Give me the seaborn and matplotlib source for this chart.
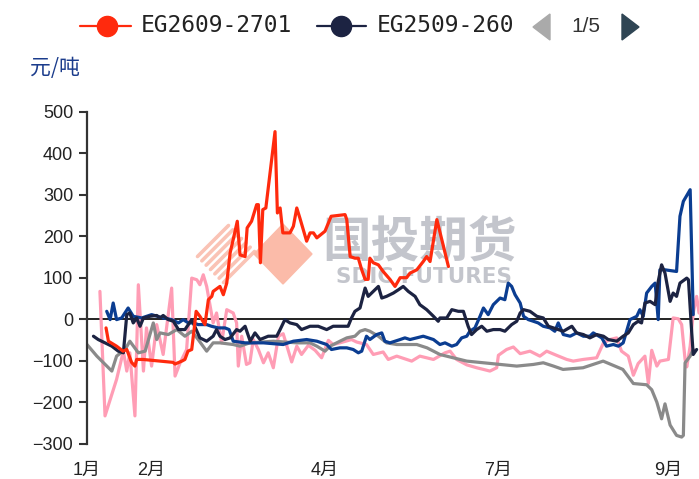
import numpy as np
import pandas as pd
import seaborn as sns
import matplotlib.pyplot as plt
from matplotlib.lines import Line2D
from matplotlib.patches import Polygon

W, H = 699, 479

# x: trading-day position since 1 Jan, y: spread (元/吨)
eg2609_x = [5.6, 6.3, 8.7, 10.6, 11.7, 13.1, 14.1, 14.6, 16.5, 25.3, 25.9, 27.9, 28.8, 29.7, 30.8,
            31.5, 32.1, 33.2, 34.7, 35.7, 36.7, 37.1, 39.1, 40.1, 41.1, 42.1, 43.0, 44.2, 45.0, 46.5,
            47.1, 48.4, 49.9, 50.4, 51.0, 51.7, 52.6, 55.3, 56.0, 56.8, 57.6, 59.7, 60.7, 61.7, 62.6,
            64.6, 65.6, 66.6, 67.6, 70.0, 71.8, 75.9, 76.4, 77.4, 78.8, 79.8, 80.8, 81.8, 82.7, 83.2,
            84.2, 85.7, 87.1, 89.1, 90.6, 92.1, 94.0, 95.0, 97.0, 98.9, 99.9, 100.9, 102.9, 106.3]
eg2609_y = [-21, -53, -65, -77, -73, -104, -113, -97, -97, -104, -108, -101, -97, -77, -73,
            -25, 19, 7, -13, 47, 55, 67, 79, 59, 87, 160, 192, 236, 155, 151,
            220, 236, 276, 276, 136, 264, 268, 452, 256, 268, 208, 208, 224, 268, 244,
            188, 208, 208, 196, 212, 248, 252, 240, 151, 147, 147, 119, 96, 96, 147,
            136, 131, 115, 96, 79, 100, 100, 111, 119, 139, 151, 139, 240, 127]

eg2509_x = [1.9, 3.3, 5.3, 7.3, 9.2, 10.7, 11.7, 12.6, 13.6, 14.6, 15.6, 16.6, 18.5, 20.5, 21.5,
            22.4, 23.9, 25.4, 26.9, 28.8, 30.8, 33.2, 35.2, 37.1, 38.1, 39.1, 40.6, 42.1, 44.0, 45.0,
            46.5, 48.0, 49.4, 50.9, 53.3, 55.8, 56.8, 58.2, 59.7, 61.7, 63.1, 65.6, 68.0, 70.5, 72.4,
            76.8, 77.8, 78.8, 80.3, 81.8, 82.7, 84.2, 85.7, 86.7, 88.1, 90.1, 91.6, 93.0, 94.5, 96.5,
            97.9, 99.9, 101.9, 103.3, 103.8, 105.8, 107.3, 109.2, 110.7, 112.1, 113.1, 114.6, 116.1,
            117.6, 119.5, 121.5, 122.9, 124.9, 126.4, 127.4, 128.4, 130.3, 132.3, 134.2, 135.7, 137.2,
            138.6, 140.1, 142.6, 144.0, 146.0, 147.9, 149.9, 151.9, 153.3, 155.8, 157.7, 159.2, 160.7,
            162.1, 163.1, 164.1, 165.6, 167.1, 168.0, 169.0, 170.0, 171.5, 172.4, 173.4, 174.4, 176.4,
            176.9, 177.8, 178.3, 179.3]
eg2509_y = [-41, -49, -57, -65, -77, -81, 11, 15, -9, 3, -17, 3, 7, 9, 3,
            9, -1, -5, -25, -25, -1, -45, -53, -41, -25, -41, -49, -45, -25, -29,
            -17, -53, -33, -49, -41, -41, -25, -1, -9, -13, -25, -17, -17, -25, -17,
            -17, 3, 19, 27, 75, 55, 67, 79, 51, 55, 63, 71, 79, 67, 55,
            35, 23, 7, -5, 3, 3, 23, 19, 19, -17, -37, -25, -17,
            -29, -25, -25, -29, -13, -5, 15, 23, 19, 7, 3, -17, -21,
            -25, -29, -17, -33, -37, -45, -37, -41, -49, -53, -41, -33, -13,
            -5, -9, 39, 43, 35, 91, 131, 111, 43, 63, 55, 87, 99,
            95, -25, -85, -73]

eg2409_x = [5.8, 6.8, 7.7, 8.7, 10.2, 12.1, 13.6, 16.1, 19.0, 22.4, 24.9, 26.9, 28.3, 29.8, 31.3,
            32.7, 35.2, 36.6, 38.6, 40.6, 41.8, 43.0, 46.5, 51.9, 57.7, 60.7, 64.6, 67.6, 70.5, 71.9,
            74.4, 76.4, 78.3, 79.8, 80.8, 82.2, 83.2, 85.2, 86.7, 87.6, 89.1, 92.1, 93.5, 95.0, 98.9,
            101.9, 103.8, 105.3, 107.3, 108.7, 110.2, 111.7, 112.6, 114.1, 115.6, 116.6, 118.0, 119.5,
            121.5, 122.9, 123.9, 124.9, 125.9, 127.4, 128.4, 129.8, 131.3, 132.7, 134.2, 136.2, 137.6,
            138.6, 140.1, 142.1, 144.0, 146.0, 147.9, 148.9, 151.4, 152.8, 154.8, 156.3, 157.7, 159.7,
            161.7, 162.6, 163.6, 164.6, 166.1, 167.1, 168.0, 168.5, 170.0, 173.4, 174.4, 175.4, 177.4,
            178.3]
eg2409_y = [19, -1, 39, -1, 3, 27, 7, 3, 11, 3, -1, -9, -1, -9, -9,
            -13, -13, -17, -21, -21, -25, -53, -57, -57, -61, -53, -49, -53, -61, -73,
            -69, -69, -73, -81, -77, -41, -49, -37, -33, -53, -57, -49, -45, -49, -41,
            -49, -61, -57, -65, -61, -45, -41, -29, -21, 7, 27, 11, 35,
            51, 47, 87, 79, 59, 39, 7, -1, -5, -9, -17, -21, -29,
            -9, -37, -41, -33, -41, -41, -33, -45, -65, -61, -65, -57, -1,
            7, 23, 7, 63, 79, 87, -1, 119, 119, 115, 248, 284, 312,
            11]

eg2309_x = [0.0, 2.9, 7.3, 8.7, 11.2, 12.6, 15.1, 17.1, 19.5, 20.5, 21.5, 23.9, 26.4, 28.8, 30.8,
            32.7, 35.2, 37.1, 39.1, 43.0, 45.0, 47.9, 54.8, 61.7, 65.6, 67.6, 70.0, 71.5, 74.4, 76.4,
            78.8, 80.3, 81.8, 83.2, 85.7, 88.1, 91.1, 94.5, 97.0, 100.0, 103.8, 107.7, 111.7, 116.6,
            121.5, 126.4, 131.3, 134.2, 137.2, 140.0, 145.9, 151.8, 157.6, 160.7, 164.6, 166.1, 167.6,
            169.0, 170.0, 171.5, 173.4, 174.9, 175.4, 175.9, 177.4, 178.3]
eg2309_y = [-61, -89, -125, -89, -73, -53, -81, -77, -9, -49, -33, -37, -25, -41, -29,
            -49, -77, -57, -57, -61, -65, -57, -53, -57, -57, -65, -77, -65, -53, -45,
            -41, -29, -25, -29, -41, -57, -61, -61, -61, -69, -85, -93, -101, -105,
            -109, -113, -109, -105, -113, -121, -117, -101, -121, -155, -158, -170, -200,
            -240, -204, -255, -280, -284, -280, -105, -89, -73]

eg2209_x = [3.8, 5.3, 8.7, 10.7, 11.7, 12.6, 14.1, 15.1, 16.6, 17.5, 19.0, 20.5, 22.4, 24.9, 25.9,
            27.4, 29.3, 30.8, 32.3, 33.2, 34.2, 35.2, 37.1, 38.1, 39.6, 41.1, 43.0, 44.0, 44.5, 45.5,
            46.9, 47.9, 48.9, 50.4, 51.9, 53.3, 54.8, 56.3, 57.7, 60.2, 61.7, 63.1, 65.1, 67.1, 69.0,
            71.0, 72.4, 74.4, 77.8, 79.3, 82.2, 84.2, 87.1, 88.6, 91.1, 95.5, 97.9, 101.9, 105.3, 106.8,
            108.7, 111.7, 114.6, 116.6, 118.5, 120.5, 121.0, 123.4, 125.4, 127.4, 130.3, 133.2, 135.2,
            138.1, 141.1, 143.0, 145.9, 149.9, 151.9, 153.8, 155.8, 157.2, 159.2, 160.7, 162.1, 164.1,
            165.1, 166.1, 167.6, 168.5, 171.0, 172.4, 173.9, 174.9, 175.9, 176.4, 177.4, 178.3, 179.3,
            180.0]
eg2209_y = [67, -233, -145, -77, -125, -81, -233, 83, -125, -21, -113, -13, -85, 75, -137,
            -105, -73, 99, 95, 83, 107, 79, -9, 15, -57, 23, 15, -9, -113, -41,
            -109, -105, -49, -73, -105, -81, -117, -41, -35, -103, -65, -85, -63, -75, -93,
            -51, -61, -57, -49, -55, -61, -85, -79, -97, -89, -101, -89, -97, -81, -77,
            -97, -110, -117, -121, -125, -117, -87, -73, -67, -83, -77, -89, -77,
            -87, -97, -101, -97, -93, -57, -49, -45, -77, -89, -135, -107, -89,
            -155, -75, -113, -101, -97, 3, 1, -13, -97, -115, -65, 15, 55,
            15]

contracts = ["EG2209-2301", "EG2309-2401", "EG2409-2501", "EG2509-2601", "EG2609-2701"]
xs_all = [eg2209_x, eg2309_x, eg2409_x, eg2509_x, eg2609_x]
ys_all = [eg2209_y, eg2309_y, eg2409_y, eg2509_y, eg2609_y]
colors = ["#FF9DB5", "#8A8A8A", "#0B3D91", "#1C2342", "#FF2A0D"]

tick_pos = [0, 19, 70, 121, 171]
tick_lab = ["1月", "2月", "4月", "7月", "9月"]

frames = []
for name, xs, ys in zip(contracts, xs_all, ys_all):
    frames.append(pd.DataFrame({"day": xs, "spread": ys, "contract": name}))
df = pd.concat(frames, ignore_index=True)

sns.set_theme(style="white")
plt.rcParams["font.family"] = ["Liberation Sans", "Noto Sans CJK SC", "DejaVu Sans"]

fig = plt.figure(figsize=(W / 100, H / 100), dpi=100)
ax = fig.add_axes([87 / W, 1 - 443.7 / H, 612 / W, 332 / H])
ax.set_facecolor("none")


def fp(px, py):
    return px / W, 1 - py / H


# watermark logo + text
r = 31
cx, cy = 226, 254
for c in np.linspace(-r + 5, r - 5, 7):
    x0, y0 = cx + (c - r) / 2, cy + (c + r) / 2
    x1, y1 = cx + (c + r) / 2, cy + (c - r) / 2
    ax.add_line(Line2D([fp(x0, y0)[0], fp(x1, y1)[0]], [fp(x0, y0)[1], fp(x1, y1)[1]],
                       transform=fig.transFigure, color="#FAC3B5", lw=2.6, zorder=0.4,
                       clip_on=False))
dx, dy = 283, 254
ax.add_patch(Polygon([fp(dx, dy - 30), fp(dx + 29, dy), fp(dx, dy + 30), fp(dx - 29, dy)],
                     closed=True, transform=fig.transFigure, color="#FBBBA9", zorder=0.4,
                     clip_on=False))
ax.text(*fp(420, 243), "国投期货", transform=fig.transFigure, fontsize=35, fontweight="bold",
        color="#C3C5CC", ha="center", va="center", family="Noto Sans CJK SC", zorder=0.5)
ax.text(*fp(424, 277), "SDIC FUTURES", transform=fig.transFigure, fontsize=15.5,
        fontweight="bold", family="DejaVu Sans", color="#C3C5CC", ha="center", va="center",
        zorder=0.5)

ax.axhline(0, color="#222222", lw=1.4, zorder=1.5)

sns.lineplot(data=df, x="day", y="spread", hue="contract", hue_order=contracts,
             palette=colors, estimator=None, sort=False, lw=2.3, legend=False, ax=ax, zorder=2)

ax.set_xlim(0, 180)
ax.set_ylim(-300, 500)
ax.set_yticks(range(-300, 501, 100))
ax.set_xticks(tick_pos)
ax.set_xticklabels(tick_lab)
ax.set_xlabel("")
ax.set_ylabel("")
for s in ["top", "right", "bottom"]:
    ax.spines[s].set_visible(False)
ax.spines["left"].set_color("#333333")
ax.spines["left"].set_linewidth(1.6)
ax.tick_params(axis="y", left=True, length=6, width=1.5, color="#333333",
               labelsize=13, labelcolor="#222222", pad=4)
ax.tick_params(axis="x", bottom=False, length=0, labelsize=13, labelcolor="#222222", pad=13)

# unit label
fig.text(*fp(55, 68), "元/吨", fontsize=15, color="#1B3C8C", ha="center", va="center",
         family=["Noto Sans CJK SC", "DejaVu Sans"])

# legend (first page)
leg_items = [("EG2609-2701", "#FF2A0D", 80, 131, 107, 141),
             ("EG2509-260", "#1C2342", 317, 366, 341, 377)]
ly = 26
for lab, col, lx0, lx1, lxc, tx in leg_items:
    fig.add_artist(Line2D([lx0 / W, lx1 / W], [1 - ly / H] * 2, color=col, lw=1.6))
    fig.add_artist(Line2D([lxc / W], [1 - ly / H], marker="o", markersize=14.5,
                          color=col, lw=0))
    fig.text(tx / W, 1 - ly / H, lab, fontsize=16.5, family="DejaVu Sans Mono",
             color="#222222", ha="left", va="center")

fig.add_artist(Polygon([fp(533, 27), fp(550, 14), fp(550, 40)], closed=True,
                       transform=fig.transFigure, color="#AAAAAA"))
fig.text(*fp(586, 27), "1/5", fontsize=15, color="#333333", ha="center", va="center")
fig.add_artist(Polygon([fp(622, 14), fp(622, 40), fp(639, 27)], closed=True,
                       transform=fig.transFigure, color="#2F4554"))

fig.savefig("out.png", dpi=100)
